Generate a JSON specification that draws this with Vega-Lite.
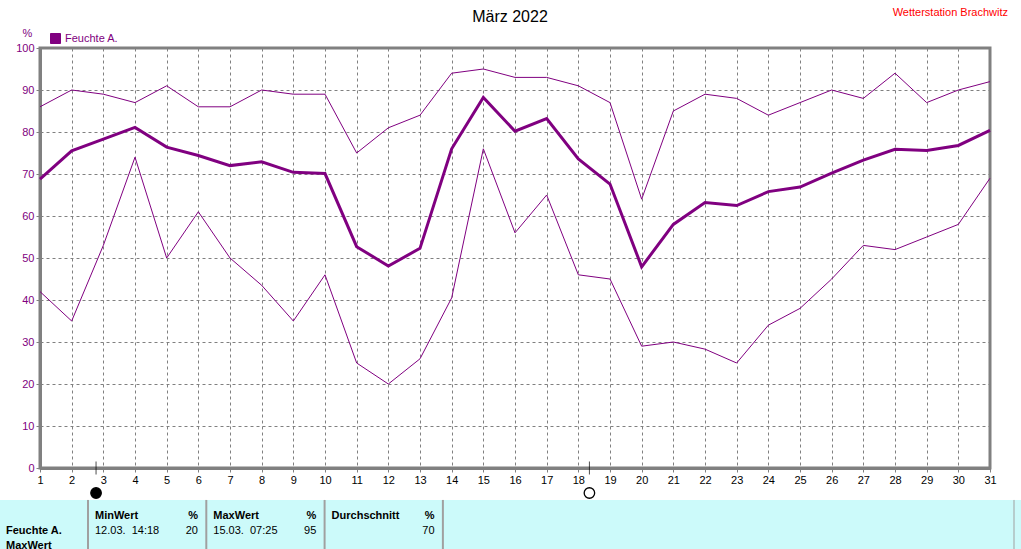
{
  "$schema": "https://vega.github.io/schema/vega-lite/v6.json",
  "autosize": {"type": "none"},
  "padding": {"left": 40, "top": 48, "right": 31, "bottom": 81},
  "width": 950,
  "height": 420,
  "background": "white",
  "title": {"text": "März 2022", "fontSize": 16, "fontWeight": "normal", "font": "Liberation Sans", "color": "black", "anchor": "middle", "dx": -5, "offset": -18},
  "datasets": {
    "humidity": [
      {"day": 1, "max": 86, "avg": 68.8, "min": 42},
      {"day": 2, "max": 90, "avg": 75.5, "min": 35},
      {"day": 3, "max": 89, "avg": 78.3, "min": 53},
      {"day": 4, "max": 87, "avg": 81.1, "min": 74},
      {"day": 5, "max": 91, "avg": 76.4, "min": 50},
      {"day": 6, "max": 86, "avg": 74.4, "min": 61},
      {"day": 7, "max": 86, "avg": 72, "min": 50},
      {"day": 8, "max": 90, "avg": 72.9, "min": 43.5},
      {"day": 9, "max": 89, "avg": 70.4, "min": 35},
      {"day": 10, "max": 89, "avg": 70.1, "min": 46},
      {"day": 11, "max": 75, "avg": 52.7, "min": 25},
      {"day": 12, "max": 81, "avg": 48.1, "min": 20},
      {"day": 13, "max": 84, "avg": 52.3, "min": 26},
      {"day": 14, "max": 94, "avg": 76, "min": 40.5},
      {"day": 15, "max": 95, "avg": 88.2, "min": 76},
      {"day": 16, "max": 93, "avg": 80.2, "min": 56},
      {"day": 17, "max": 93, "avg": 83.2, "min": 65},
      {"day": 18, "max": 91, "avg": 73.6, "min": 46},
      {"day": 19, "max": 87, "avg": 67.6, "min": 45},
      {"day": 20, "max": 64, "avg": 47.9, "min": 29},
      {"day": 21, "max": 85, "avg": 58, "min": 30},
      {"day": 22, "max": 89, "avg": 63.2, "min": 28.3},
      {"day": 23, "max": 88, "avg": 62.5, "min": 25},
      {"day": 24, "max": 84, "avg": 65.8, "min": 34},
      {"day": 25, "max": 87, "avg": 66.9, "min": 38},
      {"day": 26, "max": 90, "avg": 70.2, "min": 45},
      {"day": 27, "max": 88, "avg": 73.3, "min": 53},
      {"day": 28, "max": 94, "avg": 75.9, "min": 52},
      {"day": 29, "max": 87, "avg": 75.6, "min": 55},
      {"day": 30, "max": 90, "avg": 76.8, "min": 58},
      {"day": 31, "max": 92, "avg": 80.4, "min": 69}
    ],
    "moon": [
      {"day": 2.77, "phase": "Neumond"},
      {"day": 18.35, "phase": "Vollmond"}
    ],
    "station": [
      {"name": "Wetterstation Brachwitz"}
    ],
    "table": [
      {"col": 0, "row": 0, "kind": "name", "text": "MinWert"},
      {"col": 0, "row": 0, "kind": "unit", "text": "%"},
      {"col": 1, "row": 0, "kind": "name", "text": "MaxWert"},
      {"col": 1, "row": 0, "kind": "unit", "text": "%"},
      {"col": 2, "row": 0, "kind": "name", "text": "Durchschnitt"},
      {"col": 2, "row": 0, "kind": "unit", "text": "%"},
      {"col": 0, "row": 1, "kind": "time", "text": "12.03.\u00a0\u00a014:18"},
      {"col": 0, "row": 1, "kind": "value", "text": "20"},
      {"col": 1, "row": 1, "kind": "time", "text": "15.03.\u00a0\u00a007:25"},
      {"col": 1, "row": 1, "kind": "value", "text": "95"},
      {"col": 2, "row": 1, "kind": "value", "text": "70"},
      {"col": -1, "row": 1, "kind": "label", "text": "Feuchte A."},
      {"col": -1, "row": 2, "kind": "label", "text": "MaxWert"}
    ],
    "columns": [
      {"col": 0}, {"col": 1}, {"col": 2}, {"col": 3}
    ]
  },
  "layer": [
    {
      "data": {"name": "humidity"},
      "mark": {"type": "line", "color": "#800080", "strokeWidth": 1},
      "encoding": {
        "x": {"field": "day", "type": "quantitative",
              "scale": {"domain": [1, 31], "nice": false, "zero": false},
              "axis": {"values": [1,2,3,4,5,6,7,8,9,10,11,12,13,14,15,16,17,18,19,20,21,22,23,24,25,26,27,28,29,30,31],
                       "orient": "bottom", "title": null, "labelColor": "black", "labelFlush": false, "labelOverlap": false, "labelBound": false, "format": "d"}},
        "y": {"field": "max", "type": "quantitative",
              "scale": {"domain": [0, 100], "nice": false, "zero": false},
              "axis": {"values": [0,10,20,30,40,50,60,70,80,90,100], "orient": "left", "title": "%", "labelColor": "#800080", "labelOverlap": false,
                       "titleAngle": 0, "titleX": -13, "titleY": -12, "titleAlign": "center", "titleBaseline": "alphabetic",
                       "titleColor": "#800080", "titleFontWeight": "normal", "titleFontSize": 11, "titleFont": "Liberation Sans"}}
      }
    },
    {
      "data": {"name": "humidity"},
      "mark": {"type": "line", "color": "#800080", "strokeWidth": 1},
      "encoding": {
        "x": {"field": "day", "type": "quantitative", "scale": {"domain": [1, 31], "nice": false, "zero": false}, "axis": null},
        "y": {"field": "min", "type": "quantitative", "scale": {"domain": [0, 100], "nice": false, "zero": false}, "axis": null}
      }
    },
    {
      "data": {"name": "humidity"},
      "mark": {"type": "line", "strokeWidth": 3},
      "encoding": {
        "x": {"field": "day", "type": "quantitative", "scale": {"domain": [1, 31], "nice": false, "zero": false}, "axis": null},
        "y": {"field": "avg", "type": "quantitative", "scale": {"domain": [0, 100], "nice": false, "zero": false}, "axis": null},
        "color": {"datum": "Feuchte A.", "scale": {"range": ["#800080"]},
                  "legend": {"title": null, "orient": "none", "legendX": 10, "legendY": -15,
                             "symbolType": "square", "symbolSize": 100, "labelColor": "#800080",
                             "labelFontSize": 11, "labelFont": "Liberation Sans", "labelOffset": 4,
                             "symbolStrokeColor": "black", "symbolStrokeWidth": 1,
                             "encode": {"symbols": {"update": {"fill": {"value": "#800080"}, "stroke": {"value": "black"}, "strokeWidth": {"value": 1}}}}}}
      }
    },
    {
      "data": {"name": "moon"},
      "mark": {"type": "tick", "orient": "vertical", "size": 13, "thickness": 1, "color": "black"},
      "encoding": {
        "x": {"field": "day", "type": "quantitative", "scale": {"domain": [1, 31], "nice": false, "zero": false}, "axis": null},
        "y": {"datum": 0, "type": "quantitative", "scale": {"domain": [0, 100], "nice": false, "zero": false}, "axis": null}
      }
    },
    {
      "data": {"name": "moon"},
      "mark": {"type": "point", "shape": "circle", "filled": true, "size": 110, "stroke": "black", "strokeWidth": 1.3, "opacity": 1},
      "encoding": {
        "x": {"field": "day", "type": "quantitative", "scale": {"domain": [1, 31], "nice": false, "zero": false}, "axis": null},
        "y": {"datum": 0, "type": "quantitative", "scale": {"domain": [0, 100], "nice": false, "zero": false}, "axis": null},
        "yOffset": {"value": 25},
        "fill": {"condition": {"test": "datum.phase === 'Neumond'", "value": "black"}, "value": "white"}
      }
    },
    {
      "data": {"name": "station"},
      "mark": {"type": "text", "color": "#ff0000", "font": "Liberation Sans", "fontSize": 11, "align": "right", "baseline": "middle", "dx": 18, "dy": -35},
      "encoding": {
        "x": {"datum": 31, "type": "quantitative", "scale": {"domain": [1, 31], "nice": false, "zero": false}, "axis": null},
        "y": {"datum": 100, "type": "quantitative", "scale": {"domain": [0, 100], "nice": false, "zero": false}, "axis": null},
        "text": {"field": "name"}
      }
    },
    {
      "data": {"name": "station"},
      "mark": {"type": "rect", "color": "#ccfafa"},
      "encoding": {
        "x": {"datum": -0.7439, "type": "quantitative", "scale": {"domain": [-0.4057, 7.6247], "nice": false, "zero": false}, "axis": null},
        "x2": {"datum": 8.2},
        "y": {"datum": -1.07, "type": "quantitative", "scale": {"domain": [-31.2, -3.2], "reverse": true, "nice": false, "zero": false}, "axis": null},
        "y2": {"datum": 3}
      }
    },
    {
      "data": {"name": "columns"},
      "mark": {"type": "rule", "color": "#a0a0a0", "strokeWidth": 2},
      "encoding": {
        "x": {"field": "col", "type": "quantitative", "scale": {"domain": [-0.4057, 7.6247], "nice": false, "zero": false}, "axis": null},
        "y": {"datum": -1.07, "type": "quantitative", "scale": {"domain": [-31.2, -3.2], "reverse": true, "nice": false, "zero": false}, "axis": null},
        "y2": {"datum": 3}
      }
    },
    {
      "data": {"name": "station"},
      "mark": {"type": "rule", "color": "#a0a0a0", "strokeWidth": 1},
      "encoding": {
        "x": {"datum": 7.8276, "type": "quantitative", "scale": {"domain": [-0.4057, 7.6247], "nice": false, "zero": false}, "axis": null},
        "y": {"datum": -1.07, "type": "quantitative", "scale": {"domain": [-31.2, -3.2], "reverse": true, "nice": false, "zero": false}, "axis": null},
        "y2": {"datum": 3}
      }
    },
    {
      "data": {"name": "table"},
      "transform": [{"filter": "datum.kind === 'name'"}],
      "mark": {"type": "text", "align": "left", "baseline": "middle", "dx": 7, "font": "Liberation Sans", "fontSize": 11, "fontWeight": "bold", "color": "black"},
      "encoding": {
        "x": {"field": "col", "type": "quantitative", "scale": {"domain": [-0.4057, 7.6247], "nice": false, "zero": false}, "axis": null},
        "y": {"field": "row", "type": "quantitative", "scale": {"domain": [-31.2, -3.2], "reverse": true, "nice": false, "zero": false}, "axis": null},
        "text": {"field": "text"}
      }
    },
    {
      "data": {"name": "table"},
      "transform": [{"filter": "datum.kind === 'time'"}],
      "mark": {"type": "text", "align": "left", "baseline": "middle", "dx": 7, "font": "Liberation Sans", "fontSize": 11, "fontWeight": "normal", "color": "black"},
      "encoding": {
        "x": {"field": "col", "type": "quantitative", "scale": {"domain": [-0.4057, 7.6247], "nice": false, "zero": false}, "axis": null},
        "y": {"field": "row", "type": "quantitative", "scale": {"domain": [-31.2, -3.2], "reverse": true, "nice": false, "zero": false}, "axis": null},
        "text": {"field": "text"}
      }
    },
    {
      "data": {"name": "table"},
      "transform": [{"filter": "datum.kind === 'unit'"}],
      "mark": {"type": "text", "align": "right", "baseline": "middle", "dx": 110, "font": "Liberation Sans", "fontSize": 11, "fontWeight": "bold", "color": "black"},
      "encoding": {
        "x": {"field": "col", "type": "quantitative", "scale": {"domain": [-0.4057, 7.6247], "nice": false, "zero": false}, "axis": null},
        "y": {"field": "row", "type": "quantitative", "scale": {"domain": [-31.2, -3.2], "reverse": true, "nice": false, "zero": false}, "axis": null},
        "text": {"field": "text"}
      }
    },
    {
      "data": {"name": "table"},
      "transform": [{"filter": "datum.kind === 'value'"}],
      "mark": {"type": "text", "align": "right", "baseline": "middle", "dx": 110, "font": "Liberation Sans", "fontSize": 11, "fontWeight": "normal", "color": "black"},
      "encoding": {
        "x": {"field": "col", "type": "quantitative", "scale": {"domain": [-0.4057, 7.6247], "nice": false, "zero": false}, "axis": null},
        "y": {"field": "row", "type": "quantitative", "scale": {"domain": [-31.2, -3.2], "reverse": true, "nice": false, "zero": false}, "axis": null},
        "text": {"field": "text"}
      }
    },
    {
      "data": {"name": "table"},
      "transform": [{"filter": "datum.kind === 'label'"}],
      "mark": {"type": "text", "align": "left", "baseline": "middle", "dx": 6, "font": "Liberation Sans", "fontSize": 11, "fontWeight": "bold", "color": "black"},
      "encoding": {
        "x": {"datum": -0.7439, "type": "quantitative", "scale": {"domain": [-0.4057, 7.6247], "nice": false, "zero": false}, "axis": null},
        "y": {"field": "row", "type": "quantitative", "scale": {"domain": [-31.2, -3.2], "reverse": true, "nice": false, "zero": false}, "axis": null},
        "text": {"field": "text"}
      }
    }
  ],
  "resolve": {"scale": {"x": "independent", "y": "independent"}, "axis": {"x": "independent", "y": "independent"}},
  "config": {
    "font": "Liberation Sans",
    "view": {"stroke": "#808080", "strokeWidth": 3},
    "axis": {
      "labelFont": "Liberation Sans", "labelFontSize": 11,
      "grid": true, "gridColor": "#808080", "gridDash": [3, 3], "gridOpacity": 1, "gridWidth": 1,
      "domainColor": "#808080", "domainWidth": 3,
      "tickColor": "#808080", "tickSize": 4, "labelPadding": 2
    },
    "legend": {"padding": 0}
  }
}
